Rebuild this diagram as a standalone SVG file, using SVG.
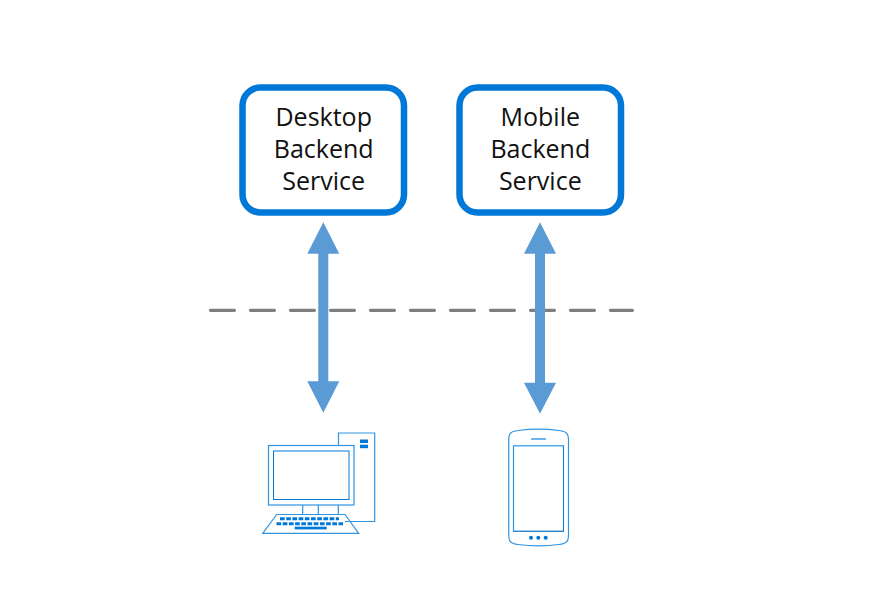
<svg xmlns="http://www.w3.org/2000/svg" width="896" height="598" viewBox="0 0 896 598">
<style>
.box{fill:#fff;stroke:#0078d7;stroke-width:6.5}
.lbl{font-family:"Open Sans","Noto Sans","Liberation Sans",sans-serif;font-size:25px;fill:#111;text-anchor:middle}
.arr{fill:#5b9bd5}
.ln{fill:none;stroke:#0078d7;stroke-width:1}
.lt{fill:none;stroke:#2f95e3;stroke-width:1.2}
.key{fill:#0078d7}
.keys{fill:none;stroke:#0078d7;stroke-width:3}
</style>
<rect width="896" height="598" fill="#fff"/>
<g id="desktop-backend">
<rect class="box" x="242.5" y="87.5" width="161.5" height="125" rx="18"/>
<text class="lbl" x="323.700" y="126">Desktop</text>
<text class="lbl" x="323.700" y="158">Backend</text>
<text class="lbl" x="323.700" y="190">Service</text>
</g>
<g id="mobile-backend">
<rect class="box" x="459.500" y="87.5" width="161.5" height="125" rx="18"/>
<text class="lbl" x="540.300" y="126">Mobile</text>
<text class="lbl" x="540.300" y="158">Backend</text>
<text class="lbl" x="540.300" y="190">Service</text>
</g>
<g id="connectors">
<path d="M210.500 310.300H632.500" fill="none" stroke="#7f7f7f" stroke-width="3.200" stroke-linecap="round" stroke-dasharray="24 16"/>
<polygon class="arr" points="323.300,222.300 339.300,253.700 328.300,253.700 328.300,381.300 339.300,381.300 323.300,412.700 307.300,381.300 318.300,381.300 318.300,253.700 307.300,253.700"/>
<polygon class="arr" points="540,222.300 556,253.700 545,253.700 545,382.700 556,382.700 540,413.700 524,382.700 535,382.700 535,253.700 524,253.700"/>
</g>
<g id="desktop-computer">
<path class="lt" d="M338.500 445V433H374.700V521.500H345"/>
<rect class="key" x="360" y="439.500" width="8" height="3.500"/>
<rect class="key" x="360" y="444.700" width="8" height="3.500"/>
<rect class="lt" x="268.500" y="445.500" width="85.500" height="59.500"/>
<rect class="ln" x="273.500" y="451" width="75.500" height="48.500"/>
<path class="lt" d="M302.700 505V514M318.300 505V514M338.300 505V514"/>
<path class="lt" d="M276.700 514.500H345L358.700 533.300H262.700Z"/>
<path class="keys" d="M280 518.800H339" stroke-dasharray="4.700 1.500"/>
<path class="keys" d="M276.500 523.700H343" stroke-dasharray="4.700 1.500"/>
<rect class="key" x="294.700" y="526.700" width="32" height="2.700"/>
</g>
<g id="mobile-phone">
<path class="lt" d="M508.700 440C508.700 433 511 431.500 518 430.500C530 429 547 429 559 430.500C566 431.500 568.500 433 568.500 440V535C568.500 542 566 543.500 559 544.500C547 546 530 546 518 544.500C511 543.500 508.700 542 508.700 535Z"/>
<rect class="lt" x="513.500" y="445.800" width="50" height="85.500"/>
<path d="M513.500 531.300H563.500V446" fill="none" stroke="#2a7fc4" stroke-width="1"/>
<path d="M531 439H546" fill="none" stroke="#6db5ee" stroke-width="2"/>
<circle class="key" cx="531" cy="537.700" r="2"/>
<circle class="key" cx="538.300" cy="537.700" r="2"/>
<circle class="key" cx="545.700" cy="537.700" r="2"/>
</g>
</svg>
